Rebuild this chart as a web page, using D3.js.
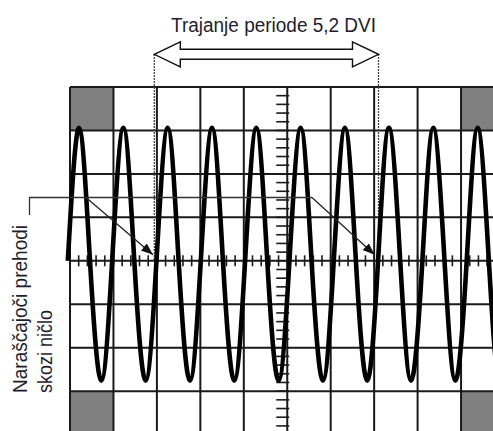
<!DOCTYPE html>
<html>
<head>
<meta charset="utf-8">
<script src="https://d3js.org/d3.v7.min.js"></script>
<style>
  body { margin: 0; background: #fff; }
  text { font-family: "Liberation Sans", Arial, sans-serif; fill: #1e1e2e; }
</style>
</head>
<body>
<script>
// wave, in divisions (x from left edge, y from centre line)
var riseX   = [-0.05, 0.97, 1.99, 3.01, 4.03, 5.05, 6.07, 7.09, 8.11, 9.13, 10.15];
var peakX   = [0.21, 1.23, 2.25, 3.27, 4.29, 5.31, 6.33, 7.34, 8.36, 9.38];
var fallX   = [0.46, 1.48, 2.50, 3.52, 4.54, 5.56, 6.58, 7.60, 8.62, 9.64];
var troughX = [0.72, 1.74, 2.76, 3.78, 4.80, 5.82, 6.84, 7.85, 8.87, 9.89];
var peakLevel = 3.06;
var troughLevel = -2.76;

// period marker (divisions) and labels
var periodMark = [1.94, 7.10];
var periodLabel = "Trajanje periode 5,2 DVI";
var sideLabel = ["Naraščajoči prehodi", "skozi ničlo"];
var pointedCrossings = [2, 7]; // indexes into riseX

var w = 493, h = 431;
var gLeft = 70, gTop = 87, div = 43.45;

var x = d3.scaleLinear().domain([0, 10]).range([gLeft, gLeft + 10 * div]);
var y = d3.scaleLinear().domain([-4, 4]).range([gTop + 8 * div, gTop]);

var svg = d3.select("body").append("svg")
    .attr("width", w)
    .attr("height", h);

svg.append("defs").append("marker")
    .attr("id", "tip")
    .attr("viewBox", "0 0 10 10")
    .attr("refX", 10).attr("refY", 5)
    .attr("markerWidth", 12).attr("markerHeight", 12)
    .attr("markerUnits", "userSpaceOnUse")
    .attr("orient", "auto")
    .append("path")
    .attr("d", "M0,1.2 L10,5 L0,8.8 Z")
    .attr("fill", "#111");

// grey corner squares
var corners = [[0, 4], [9, 4], [0, -3], [9, -3]];
svg.selectAll("rect.corner").data(corners).enter().append("rect")
    .attr("class", "corner")
    .attr("x", function(d){ return x(d[0]); })
    .attr("y", function(d){ return y(d[1]); })
    .attr("width", div)
    .attr("height", div)
    .attr("fill", "#808080");

// graticule
svg.selectAll("line.vg").data(x.ticks(10)).enter().append("line")
    .attr("class", "vg")
    .attr("x1", function(d){ return x(d); }).attr("x2", function(d){ return x(d); })
    .attr("y1", y(4)).attr("y2", y(-4))
    .attr("stroke", "#1a1a1a").attr("stroke-width", 2);
svg.selectAll("line.hg").data(y.ticks(8)).enter().append("line")
    .attr("class", "hg")
    .attr("x1", x(0)).attr("x2", x(10))
    .attr("y1", function(d){ return y(d); }).attr("y2", function(d){ return y(d); })
    .attr("stroke", "#1a1a1a").attr("stroke-width", 2);

// minor ticks on the centre lines
svg.selectAll("line.mx").data(x.ticks(50)).enter().append("line")
    .attr("class", "mx")
    .attr("x1", function(d){ return x(d); }).attr("x2", function(d){ return x(d); })
    .attr("y1", y(0) - 5.5).attr("y2", y(0) + 5.5)
    .attr("stroke", "#1a1a1a").attr("stroke-width", 1.6);
svg.selectAll("line.my").data(y.ticks(40)).enter().append("line")
    .attr("class", "my")
    .attr("x1", x(5) - 11).attr("x2", x(5) + 2)
    .attr("y1", function(d){ return y(d); }).attr("y2", function(d){ return y(d); })
    .attr("stroke", "#1a1a1a").attr("stroke-width", 1.6);

// dashed markers of the period
svg.selectAll("line.dash").data(periodMark).enter().append("line")
    .attr("class", "dash")
    .attr("x1", function(d){ return x(d); }).attr("x2", function(d){ return x(d); })
    .attr("y1", 54).attr("y2", y(0))
    .attr("stroke", "#444").attr("stroke-width", 1.3)
    .attr("stroke-dasharray", "2,1");

// waveform
var pts = [];
riseX.forEach(function(v){ pts.push([v, 0]); });
peakX.forEach(function(v){ pts.push([v, peakLevel]); });
fallX.forEach(function(v){ pts.push([v, 0]); });
troughX.forEach(function(v){ pts.push([v, troughLevel]); });
pts.sort(function(a, b){ return a[0] - b[0]; });

var wave = d3.line()
    .x(function(d){ return x(d[0]); })
    .y(function(d){ return y(d[1]); })
    .curve(d3.curveNatural);

svg.append("path")
    .attr("d", wave(pts))
    .attr("fill", "none")
    .attr("stroke", "#000")
    .attr("stroke-width", 4.6)
    .attr("stroke-linejoin", "round");

// leader line with the two arrows
var ly = 197.5;
svg.append("path")
    .attr("d", "M29.5,215 L29.5," + ly + " L312," + ly)
    .attr("fill", "none").attr("stroke", "#333").attr("stroke-width", 1.3);
var starts = [86, 312];
pointedCrossings.forEach(function(k, i){
    svg.append("line")
        .attr("x1", starts[i]).attr("y1", ly)
        .attr("x2", x(riseX[k]) - 3.5).attr("y2", y(0) - 6)
        .attr("stroke", "#222").attr("stroke-width", 1.3)
        .attr("marker-end", "url(#tip)");
});

// hollow double arrow over the period
var ax0 = x(periodMark[0]), ax1 = x(periodMark[1]), ay = 54.3;
var hl = 26, hh = 12.5, sh = 5;
svg.append("path")
    .attr("d", "M" + ax0 + "," + ay +
        " L" + (ax0 + hl) + "," + (ay - hh) +
        " L" + (ax0 + hl) + "," + (ay - sh) +
        " L" + (ax1 - hl) + "," + (ay - sh) +
        " L" + (ax1 - hl) + "," + (ay - hh) +
        " L" + ax1 + "," + ay +
        " L" + (ax1 - hl) + "," + (ay + hh) +
        " L" + (ax1 - hl) + "," + (ay + sh) +
        " L" + (ax0 + hl) + "," + (ay + sh) +
        " L" + (ax0 + hl) + "," + (ay + hh) + " Z")
    .attr("fill", "#fff").attr("stroke", "#111").attr("stroke-width", 1.4)
    .attr("stroke-linejoin", "miter");

svg.append("text")
    .attr("x", 171).attr("y", 32)
    .attr("font-size", 20)
    .attr("textLength", 205).attr("lengthAdjust", "spacingAndGlyphs")
    .text(periodLabel);

// rotated side label
var sideX = [27, 52], sideLen = [168, 83];
sideLabel.forEach(function(s, i){
    svg.append("text")
        .attr("transform", "translate(" + sideX[i] + ",393) rotate(-90)")
        .attr("font-size", 19.5)
        .attr("textLength", sideLen[i]).attr("lengthAdjust", "spacingAndGlyphs")
        .text(s);
});
</script>
</body>
</html>
